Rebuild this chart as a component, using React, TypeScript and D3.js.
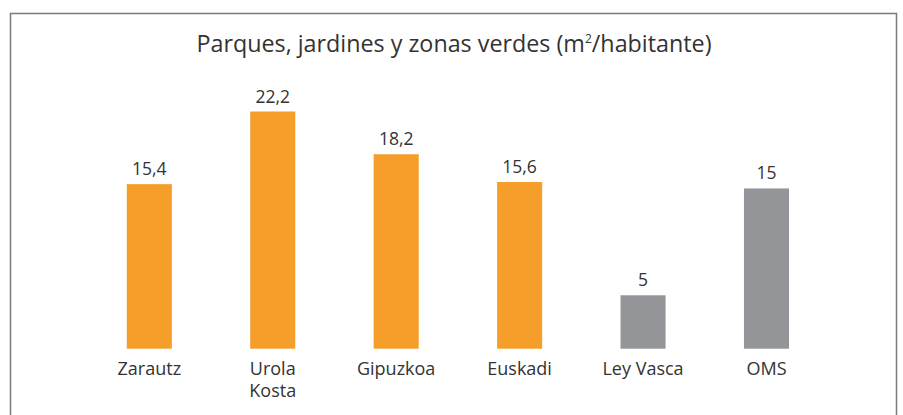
import React from "react";
import * as d3 from "d3";

const categories = ["Zarautz", "Urola\nKosta", "Gipuzkoa", "Euskadi", "Ley Vasca", "OMS"];
const values = [15.4, 22.2, 18.2, 15.6, 5, 15];
const valueLabels = ["15,4", "22,2", "18,2", "15,6", "5", "15"];
const colors = ["#F69E2A", "#F69E2A", "#F69E2A", "#F69E2A", "#939598", "#939598"];

const W = 903;
const H = 415;
const FONT = "'Open Sans', sans-serif";

export default function App() {
  const x = d3
    .scaleBand<string>()
    .domain(categories)
    .range([87.6, 828.2])
    .paddingInner(0.635)
    .paddingOuter(0.3175);
  const y = d3.scaleLinear().domain([0, 22.2]).range([348.7, 111.5]);

  return (
    <svg
      width={W}
      height={H}
      style={{ position: "absolute", left: 0, top: 0, background: "#fff" }}
      fontFamily={FONT}
    >
      <rect x={10.5} y={13.5} width={886} height={420} fill="#fff" stroke="#7a7a7a" strokeWidth={1.5} />
      <text x={454} y={52} textAnchor="middle" fontSize={23.3} fill="#333">
        Parques, jardines y zonas verdes (m
        <tspan fontSize={12} dy={-9}>2</tspan>
        <tspan dy={9}>/habitante)</tspan>
      </text>
      {categories.map((c, i) => {
        const bx = x(c)!;
        const bw = x.bandwidth();
        const cx = bx + bw / 2;
        const lines = c.split("\n");
        return (
          <g key={c}>
            <rect x={bx} y={y(values[i])} width={bw} height={y(0) - y(values[i])} fill={colors[i]} />
            <text x={cx} y={y(values[i]) - 9} textAnchor="middle" fontSize={17.5} fill="#333">
              {valueLabels[i]}
            </text>
            {lines.map((l, j) => (
              <text key={j} x={cx} y={375 + j * 22} textAnchor="middle" fontSize={18} fill="#333">
                {l}
              </text>
            ))}
          </g>
        );
      })}
    </svg>
  );
}
